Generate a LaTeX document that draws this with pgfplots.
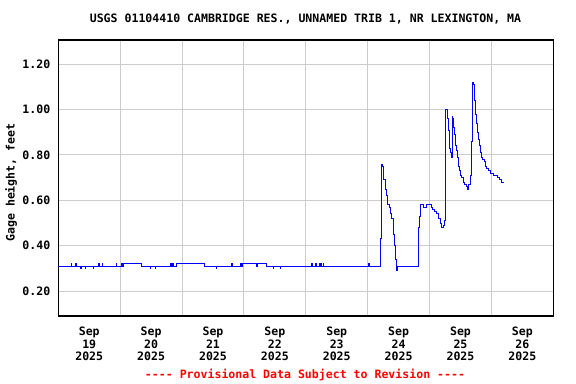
\documentclass[border=0pt]{standalone}
\usepackage{pgfplots}
\pgfplotsset{compat=1.18}
\usepackage{fontspec}
\setmainfont{DejaVu Sans Mono}[Ligatures=TeXOff]
\newcommand{\gd}{\bfseries\fontsize{11.6}{12.6}\selectfont}
\begin{document}
\begin{tikzpicture}
\useasboundingbox (0,0) rectangle (576bp,384bp);
\begin{axis}[
  at={(58.3bp,68bp)}, anchor=south west,
  width=495bp, height=276bp, scale only axis,
  xmin=0, xmax=8, ymin=0.090, ymax=1.307,
  xtick={0.5,1.5,2.5,3.5,4.5,5.5,6.5,7.5},
  xticklabels={{Sep\\19\\2025},{Sep\\20\\2025},{Sep\\21\\2025},{Sep\\22\\2025},{Sep\\23\\2025},{Sep\\24\\2025},{Sep\\25\\2025},{Sep\\26\\2025}},
  minor xtick={1,2,3,4,5,6,7},
  xminorgrids, ymajorgrids,
  ytick={0.2,0.4,0.6,0.8,1.0,1.2},
  major grid style={draw=black!20, line width=1bp},
  minor grid style={draw=black!20, line width=1bp},
  major tick length=0pt, minor tick length=0pt,
  axis line style={line width=1.3bp, black},
  /pgf/number format/assume math mode=true,
  tick label style={font=\gd},
  yticklabel style={/pgf/number format/fixed, /pgf/number format/fixed zerofill, /pgf/number format/precision=2, xshift=-4.5bp},
  xticklabel style={align=center, yshift=-7.5bp},
]
\addplot[const plot, blue, line width=0.9bp] coordinates {
(0,0.31) (0.205,0.32) (0.215,0.31) (0.281,0.32) (0.291,0.31)
(0.362,0.30) (0.372,0.31) (0.431,0.30) (0.441,0.31) (0.565,0.30) (0.575,0.31)
(0.653,0.32) (0.663,0.31) (0.706,0.32) (0.716,0.31) (0.932,0.32) (0.942,0.31)
(1.024,0.32) (1.034,0.31) (1.050,0.32) (1.336,0.31)
(1.486,0.30) (1.496,0.31) (1.567,0.30) (1.577,0.31)
(1.816,0.32) (1.826,0.31) (1.850,0.32) (1.860,0.31) (1.913,0.32) (2.359,0.31)
(2.548,0.30) (2.558,0.31) (2.801,0.32) (2.811,0.31)
(2.947,0.32) (2.957,0.31) (2.970,0.32) (3.205,0.31) (3.215,0.32) (3.367,0.31)
(3.473,0.30) (3.483,0.31) (3.586,0.30) (3.596,0.31)
(4.094,0.32) (4.104,0.31) (4.163,0.32) (4.173,0.31) (4.216,0.32) (4.226,0.31)
(4.244,0.32) (4.254,0.31) (4.281,0.32) (4.291,0.31)
(5.019,0.32) (5.029,0.31)
(5.202,0.43) (5.215,0.76) (5.240,0.75) (5.262,0.69) (5.283,0.65) (5.305,0.62)
(5.326,0.58) (5.347,0.57) (5.370,0.54) (5.391,0.52) (5.412,0.45) (5.435,0.40)
(5.450,0.34) (5.460,0.30) (5.472,0.29) (5.483,0.31)
(5.816,0.35) (5.826,0.48) (5.836,0.53) (5.849,0.58) (5.897,0.57) (5.951,0.58)
(6.037,0.57) (6.053,0.56) (6.086,0.55) (6.118,0.54) (6.150,0.52) (6.170,0.50)
(6.198,0.48) (6.220,0.49) (6.236,0.51) (6.250,0.76) (6.262,1.00) (6.285,0.96)
(6.300,0.91) (6.316,0.86) (6.328,0.83) (6.344,0.81) (6.355,0.79) (6.365,0.97)
(6.377,0.96) (6.393,0.92) (6.409,0.89) (6.425,0.84) (6.441,0.82) (6.457,0.79)
(6.473,0.75) (6.489,0.73) (6.506,0.71) (6.522,0.70) (6.543,0.68) (6.560,0.67)
(6.603,0.66) (6.619,0.65) (6.635,0.67) (6.660,0.71) (6.675,0.86) (6.690,1.12)
(6.708,1.11) (6.724,1.04) (6.740,0.98) (6.756,0.94) (6.772,0.90) (6.788,0.87)
(6.805,0.84) (6.821,0.81) (6.837,0.79) (6.853,0.78) (6.880,0.77) (6.901,0.75)
(6.918,0.74) (6.945,0.73) (6.990,0.72) (7.040,0.71) (7.090,0.70) (7.125,0.69)
(7.160,0.68) (7.200,0.68)
};
\end{axis}
\node[font=\gd] at (305.5bp,365bp) {USGS 01104410 CAMBRIDGE RES., UNNAMED TRIB 1, NR LEXINGTON, MA};
\node[font=\gd, rotate=90] at (11bp,201.4bp) {Gage height, feet};
\node[font=\gd, text=red] at (305bp,9bp) {---- Provisional Data Subject to Revision ----};
\end{tikzpicture}
\end{document}
